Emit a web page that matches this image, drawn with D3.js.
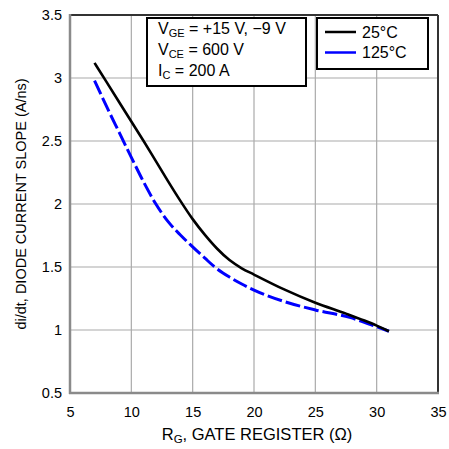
<!DOCTYPE html>
<html>
<head>
<meta charset="utf-8">
<script src="https://cdn.jsdelivr.net/npm/d3@7"></script>
<style>
body { margin: 0; background: #fff; }
text { font-family: "Liberation Sans", Arial, sans-serif; fill: #000; }
</style>
</head>
<body>
<svg id="chart" width="449" height="449"></svg>
<script>
// values
var rg_25 = [7, 8, 9, 10, 11, 12, 13, 14, 15, 16, 17, 18, 19, 20, 22.5, 25, 27.5, 29, 30, 31];
var slope_25 = [3.12, 2.965, 2.81, 2.655, 2.5, 2.34, 2.18, 2.025, 1.88, 1.755, 1.645, 1.555, 1.49, 1.44, 1.32, 1.216, 1.13, 1.075, 1.035, 0.99];
var rg_125 = [7, 8, 9, 10, 11, 12, 13, 14, 15, 16, 16.8, 18, 19, 20, 22.5, 25, 27.8, 30, 31];
var slope_125 = [2.98, 2.77, 2.57, 2.37, 2.175, 2.0, 1.86, 1.754, 1.66, 1.57, 1.5, 1.42, 1.365, 1.317, 1.225, 1.159, 1.10, 1.026, 0.99];
var x_ticks = [5, 10, 15, 20, 25, 30, 35];
var y_ticks = [0.5, 1, 1.5, 2, 2.5, 3, 3.5];
var legend_names = ["25°C", "125°C"];
var legend_colors = ["#000", "#0000ff"];

var svg = d3.select("#chart");
var pad_left = 70, pad_right = 11, pad_top = 15, pad_bot = 56;
var width = 449, height = 449;

var xScale = d3.scaleLinear().domain([5, 35]).range([pad_left, width - pad_right]);
var yScale = d3.scaleLinear().domain([0.5, 3.5]).range([height - pad_bot, pad_top]);

// grid
svg.append("g").selectAll("line").data(x_ticks.slice(1, -1)).enter().append("line")
        .attr("x1", function (d) { return xScale(d); })
        .attr("x2", function (d) { return xScale(d); })
        .attr("y1", yScale(0.5)).attr("y2", yScale(3.5))
        .attr("stroke", "#aaa").attr("stroke-width", 1.2);
svg.append("g").selectAll("line").data(y_ticks.slice(1, -1)).enter().append("line")
        .attr("y1", function (d) { return yScale(d); })
        .attr("y2", function (d) { return yScale(d); })
        .attr("x1", xScale(5)).attr("x2", xScale(35))
        .attr("stroke", "#aaa").attr("stroke-width", 1.2);

// frame
svg.append("line").attr("x1", xScale(5)).attr("x2", xScale(35)).attr("y1", yScale(3.5)).attr("y2", yScale(3.5))
        .attr("stroke", "#333").attr("stroke-width", 2);
svg.append("line").attr("x1", xScale(35)).attr("x2", xScale(35)).attr("y1", yScale(3.5)).attr("y2", yScale(0.5))
        .attr("stroke", "#333").attr("stroke-width", 2);
svg.append("line").attr("x1", xScale(5)).attr("x2", xScale(5)).attr("y1", yScale(3.5) - 1).attr("y2", yScale(0.5) + 1)
        .attr("stroke", "#8a8a8a").attr("stroke-width", 2.5);
svg.append("line").attr("x1", xScale(5) - 1).attr("x2", xScale(35) + 1).attr("y1", yScale(0.5)).attr("y2", yScale(0.5))
        .attr("stroke", "#8a8a8a").attr("stroke-width", 2.5);

// axes (labels only)
var xAxis = d3.axisBottom(xScale).tickValues(x_ticks).tickSize(0).tickPadding(14).tickFormat(d3.format("d"));
var gx = svg.append("g").attr("transform", "translate(0," + (height - pad_bot) + ")").call(xAxis);
gx.select(".domain").remove();
gx.selectAll("text").attr("font-size", 14.5).attr("font-family", "Liberation Sans, Arial, sans-serif");

var yAxis = d3.axisLeft(yScale).tickValues(y_ticks).tickSize(0).tickPadding(8).tickFormat(function (d) { return d3.format("")(d); });
var gy = svg.append("g").attr("transform", "translate(" + pad_left + ",0)").call(yAxis);
gy.select(".domain").remove();
gy.selectAll("text").attr("font-size", 14.5).attr("font-family", "Liberation Sans, Arial, sans-serif");

// curves
var line = d3.line()
        .x(function (d) { return xScale(d[0]); })
        .y(function (d) { return yScale(d[1]); })
        .curve(d3.curveMonotoneX);
var data_125 = d3.zip(rg_125, slope_125);
var data_25 = d3.zip(rg_25, slope_25);
svg.append("path").datum(data_125).attr("d", line)
        .attr("fill", "none").attr("stroke", legend_colors[1]).attr("stroke-width", 3)
        .attr("stroke-dasharray", "15,4");
svg.append("path").datum(data_25).attr("d", line)
        .attr("fill", "none").attr("stroke", legend_colors[0]).attr("stroke-width", 2.6);

// condition box
var box = svg.append("g");
box.append("rect").attr("x", 147).attr("y", 18).attr("width", 159).attr("height", 68)
        .attr("fill", "#fff").attr("stroke", "#000").attr("stroke-width", 2);
var cond = [
    ["V", "GE", " = +15 V, \u22129 V"],
    ["V", "CE", " = 600 V"],
    ["I", "C", " = 200 A"]
];
for (var i = 0; i < cond.length; i++) {
    var t = box.append("text").attr("x", 158).attr("y", 34 + i * 21).attr("font-size", 16);
    t.append("tspan").text(cond[i][0]);
    t.append("tspan").attr("font-size", 11).attr("dy", 3).text(cond[i][1]);
    t.append("tspan").attr("dy", -3).text(cond[i][2]);
}

// legend
var leg = svg.append("g");
leg.append("rect").attr("x", 317).attr("y", 18).attr("width", 111).attr("height", 51)
        .attr("fill", "#fff").attr("stroke", "#000").attr("stroke-width", 2);
for (i = 0; i < legend_names.length; i++) {
    leg.append("line").attr("x1", 325).attr("x2", 356)
            .attr("y1", 32 + i * 20.5).attr("y2", 32 + i * 20.5)
            .attr("stroke", legend_colors[i]).attr("stroke-width", 2.5);
    leg.append("text").attr("x", 362).attr("y", 37.5 + i * 20.5).attr("font-size", 16).text(legend_names[i]);
}

// titles
var xt = svg.append("text").attr("x", 257).attr("y", 440)
        .attr("text-anchor", "middle").attr("font-size", 16.5);
xt.append("tspan").text("R");
xt.append("tspan").attr("font-size", 11.5).attr("dy", 3).text("G");
xt.append("tspan").attr("dy", -3).text(", GATE REGISTER (\u03A9)");

svg.append("text")
        .attr("transform", "translate(26," + ((pad_top + height - pad_bot) / 2) + ") rotate(-90)")
        .attr("text-anchor", "middle").attr("font-size", 14.5)
        .text("di/dt, DIODE CURRENT SLOPE (A/ns)");
</script>
</body>
</html>
